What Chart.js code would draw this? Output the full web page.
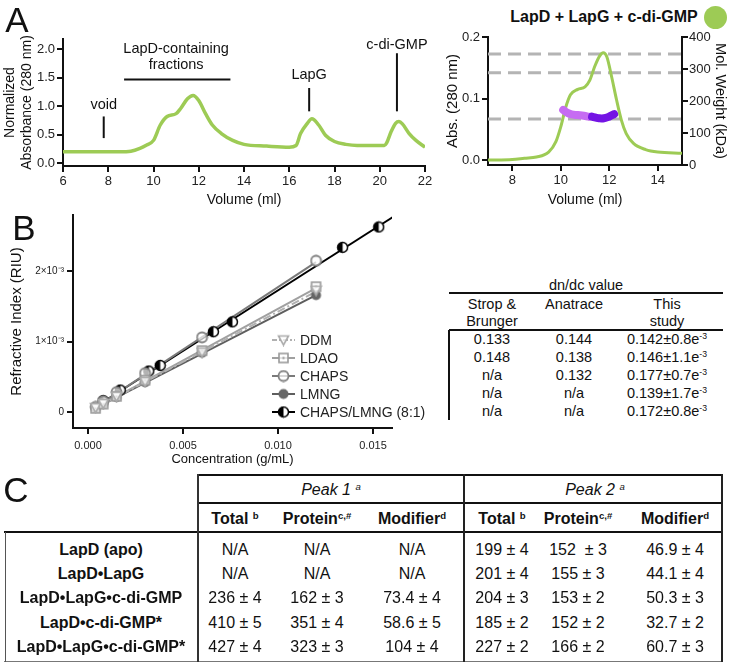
<!DOCTYPE html>
<html><head><meta charset="utf-8">
<script src="https://cdn.jsdelivr.net/npm/chart.js@4/dist/chart.umd.min.js"></script>
<style>
body{margin:0;width:732px;height:671px;position:relative;background:#fff;font-family:"Liberation Sans",Arial,Helvetica,sans-serif;color:#111;overflow:hidden}
canvas{position:absolute}
.t{position:absolute;white-space:pre;transform:translate(-50%,-50%);line-height:1}
.ln{position:absolute;background:#111}
sup{font-size:60%;vertical-align:0;position:relative;top:-0.55em}
</style></head><body>
<canvas id="cA1" width="440" height="185" style="left:0;top:25px"></canvas>
<canvas id="cA2" width="292" height="185" style="left:440px;top:25px"></canvas>
<canvas id="cB" width="445" height="265" style="left:0;top:205px"></canvas>
<script>
// ---------------- DATA ----------------
// Panel A (left): SEC trace
const volA = [6,7,8,8.5,9,9.4,9.7,10,10.3,10.6,11.0,11.2,11.5,11.75,12.0,12.3,12.6,13.0,13.5,14,15,16,16.3,16.5,16.8,17.0,17.3,17.6,18,18.5,19,20.2,20.3,20.5,20.7,20.85,21.0,21.3,21.6,22];
const absA = [0.20,0.20,0.20,0.20,0.21,0.26,0.32,0.40,0.67,0.82,0.87,0.96,1.13,1.19,1.10,0.87,0.67,0.52,0.40,0.33,0.30,0.28,0.31,0.52,0.70,0.78,0.67,0.49,0.38,0.33,0.31,0.31,0.35,0.55,0.70,0.73,0.69,0.52,0.40,0.28];
const xTicksA = [6,8,10,12,14,16,18,20,22];
const yTicksA = [0,0.5,1.0,1.5,2.0];
// Panel A (right): SEC-MALS trace
const volR = [7,8,8.5,9.0,9.5,9.8,10.0,10.2,10.4,10.7,11.0,11.2,11.4,11.6,11.75,11.9,12.1,12.3,12.5,12.7,13.0,13.5,14,15];
const absR = [0.0,0.001,0.003,0.005,0.013,0.030,0.054,0.085,0.106,0.115,0.119,0.130,0.152,0.169,0.1745,0.168,0.135,0.098,0.065,0.043,0.027,0.017,0.013,0.011];
const mwRefLines = [347,288,144];
const peak1Vol = [10.1,10.3,10.45,10.7,10.95,11.15];
const peak1MW = [172,162,158,156,154,151];
const peak2Vol = [11.29,11.45,11.57,11.78,11.99,12.2];
const peak2MW = [151,148,146,146,151,159];
const xTicksR = [8,10,12,14];
const yTicksR = [0,0.1,0.2];
const y2TicksR = [0,100,200,300,400];
// Panel B: refractive index vs concentration
const ddmConc = [0.0004,0.0008,0.0015,0.003,0.006,0.012];
const ddmRI = [0.06e-3,0.12e-3,0.22e-3,0.43e-3,0.85e-3,1.73e-3];
const ldaoConc = [0.0004,0.0008,0.0015,0.003,0.006,0.012];
const ldaoRI = [0.05e-3,0.11e-3,0.22e-3,0.45e-3,0.87e-3,1.78e-3];
const chapsConc = [0.0004,0.0008,0.0015,0.003,0.006,0.012];
const chapsRI = [0.07e-3,0.15e-3,0.28e-3,0.55e-3,1.06e-3,2.15e-3];
const lmngConc = [0.0004,0.0008,0.0015,0.003,0.006,0.012];
const lmngRI = [0.06e-3,0.11e-3,0.21e-3,0.42e-3,0.84e-3,1.66e-3];
const mixConc = [0.0008,0.0017,0.0032,0.0038,0.0066,0.0076,0.0134,0.0153];
const mixRI = [0.16e-3,0.31e-3,0.58e-3,0.66e-3,1.14e-3,1.28e-3,2.34e-3,2.63e-3];
// fitted lines, endpoints
const ddmFitC = [0.0003,0.012], ddmFitRI = [0.04e-3,1.71e-3];
const ldaoFitC = [0.0003,0.012], ldaoFitRI = [0.04e-3,1.76e-3];
const chapsFitC = [0.0003,0.012], chapsFitRI = [0.05e-3,2.13e-3];
const lmngFitC = [0.0003,0.012], lmngFitRI = [0.04e-3,1.66e-3];
const mixFitC = [0.0005,0.0161], mixFitRI = [0.09e-3,2.78e-3];
const detergents = ['DDM','LDAO','CHAPS','LMNG','CHAPS/LMNG (8:1)'];
const xTicksB = [0,0.005,0.010,0.015];
const yTicksB = [0,1e-3,2e-3];
// dn/dc table
const dndcStrop = ['0.133','0.148','n/a','n/a','n/a'];
const dndcAnatrace = ['0.144','0.138','0.132','n/a','n/a'];
const dndcThis = ['0.142','0.146','0.177','0.139','0.172'];
const dndcThisErr = ['0.8','1.1','0.7','1.7','0.8'];
// Panel C table
const rowLabels = ['LapD (apo)','LapD•LapG','LapD•LapG•c-di-GMP','LapD•c-di-GMP*','LapD•LapG•c-di-GMP*'];
const p1Total = ['N/A','N/A','236 ± 4','410 ± 5','427 ± 4'];
const p1Protein = ['N/A','N/A','162 ± 3','351 ± 4','323 ± 3'];
const p1Modifier = ['N/A','N/A','73.4 ± 4','58.6 ± 5','104 ± 4'];
const p2Total = ['199 ± 4','201 ± 4','204 ± 3','185 ± 2','227 ± 2'];
const p2Protein = ['152  ± 3','155 ± 3','153 ± 2','152 ± 2','166 ± 2'];
const p2Modifier = ['46.9 ± 4','44.1 ± 4','50.3 ± 3','32.7 ± 2','60.7 ± 3'];

// ---------------- STYLE ----------------
const FONT = '"Liberation Sans", Arial, Helvetica, sans-serif';
Chart.defaults.font.family = FONT;
Chart.defaults.color = '#111';
const GREEN = '#9dcb55';
const INK = '#111';

const pts = (xs, ys) => xs.map((x,i)=>({x, y: ys[i]}));
const fixTicks = vals => s => { s.ticks = vals.map(v=>({value:v})); };

function axis(extra){
  return Object.assign({
    type:'linear',
    grid:{display:true, drawOnChartArea:false, drawTicks:true, tickLength:6, color:INK, lineWidth:2},
    border:{display:true, color:INK, width:2},
    ticks:{color:'#222', font:{size:13}, padding:2, maxRotation:0, autoSkip:false},
  }, extra);
}

// HTML text helper
function txt(html, x, y, css){
  const d = document.createElement('div');
  d.className='t'; d.innerHTML = html;
  d.style.left = x+'px'; d.style.top = y+'px';
  if (css) d.style.cssText += css;
  document.body.appendChild(d); return d;
}
function hline(x1,x2,y,w,col){const d=document.createElement('div');d.className='ln';d.style.cssText+=`left:${x1}px;top:${y-w/2}px;width:${x2-x1}px;height:${w}px;background:${col||INK}`;document.body.appendChild(d);}
function vline(x,y1,y2,w,col){const d=document.createElement('div');d.className='ln';d.style.cssText+=`left:${x-w/2}px;top:${y1}px;width:${w}px;height:${y2-y1}px;background:${col||INK}`;document.body.appendChild(d);}

// ---------------- PANEL A (left) ----------------
const annoA = {
  texts:[{t:'void',x:7.8,y:1.02},{t:'LapD-containing',x:11.0,y:2.0},{t:'fractions',x:11.0,y:1.72},{t:'LapG',x:16.88,y:1.54},{t:'c-di-GMP',x:20.76,y:2.07}],
  lines:[[7.8,0.44,7.8,0.82],[8.7,1.47,13.4,1.47],[16.88,0.91,16.88,1.32],[20.76,0.91,20.76,1.93]]
};
const annoPlugin = {
  id:'anno',
  afterDatasetsDraw(chart){
    const {ctx, scales:{x,y}} = chart;
    ctx.save();
    ctx.strokeStyle = INK; ctx.lineWidth = 2;
    annoA.lines.forEach(([a,b,c,d])=>{ctx.beginPath();ctx.moveTo(x.getPixelForValue(a),y.getPixelForValue(b));ctx.lineTo(x.getPixelForValue(c),y.getPixelForValue(d));ctx.stroke();});
    ctx.fillStyle = INK; ctx.font = '14.5px '+FONT; ctx.textAlign='center'; ctx.textBaseline='middle';
    annoA.texts.forEach(o=>ctx.fillText(o.t, x.getPixelForValue(o.x), y.getPixelForValue(o.y)));
    ctx.restore();
  }
};
new Chart(document.getElementById('cA1'), {
  type:'line',
  data:{datasets:[{data:pts(volA,absA), borderColor:GREEN, borderWidth:3.5, pointRadius:0, cubicInterpolationMode:'monotone'}]},
  options:{responsive:false, animation:false, events:[],
    plugins:{legend:{display:false}, tooltip:{enabled:false}},
    layout:{padding:{top:14,right:15,left:0,bottom:0}},
    scales:{
      x: axis({min:6,max:22, afterBuildTicks:fixTicks(xTicksA), afterFit:s=>{s.height=44},
         title:{display:true,text:'Volume (ml)',font:{size:14},color:INK,padding:{top:0,bottom:1}}}),
      y: axis({min:-0.05,max:2.18, afterBuildTicks:fixTicks(yTicksA), afterFit:s=>{s.width=63},
         ticks:{color:'#222',font:{size:13},padding:2,callback:v=>v.toFixed(1)},
         title:{display:true,text:['Normalized','Absorbance (280 nm)'],font:{size:14,lineHeight:1.25},color:INK,padding:{top:1,bottom:0}}})
    }},
  plugins:[annoPlugin]
});

// ---------------- PANEL A (right) ----------------
const dsR = [];
mwRefLines.forEach(v=>dsR.push({data:[{x:7,y:v},{x:15,y:v}], yAxisID:'y2', borderColor:'#b4b4b4', borderWidth:3, borderDash:[13,7], pointRadius:0, order:3}));
dsR.push({data:pts(volR,absR), yAxisID:'y', borderColor:GREEN, borderWidth:3, pointRadius:0, cubicInterpolationMode:'monotone', order:2});
dsR.push({data:pts(peak1Vol,peak1MW), yAxisID:'y2', borderColor:'#c66cf2', borderWidth:8, borderCapStyle:'round', borderJoinStyle:'round', pointRadius:0, tension:0.4, order:1});
dsR.push({data:pts(peak2Vol,peak2MW), yAxisID:'y2', borderColor:'#7414e4', borderWidth:8, borderCapStyle:'round', borderJoinStyle:'round', pointRadius:0, tension:0.4, order:0});
new Chart(document.getElementById('cA2'), {
  type:'line',
  data:{datasets:dsR},
  options:{responsive:false, animation:false, events:[],
    plugins:{legend:{display:false}, tooltip:{enabled:false}},
    layout:{padding:{top:12,right:0,left:0,bottom:0}},
    scales:{
      x: axis({min:7,max:15, afterBuildTicks:fixTicks(xTicksR), afterFit:s=>{s.height=45},
         title:{display:true,text:'Volume (ml)',font:{size:14},color:INK,padding:{top:0,bottom:1}}}),
      y: axis({position:'left', min:-0.008,max:0.2, afterBuildTicks:fixTicks(yTicksR), afterFit:s=>{s.width=48},
         ticks:{color:'#222',font:{size:13},padding:2,callback:v=>v.toFixed(1)},
         title:{display:true,text:'Abs. (280 nm)',font:{size:15},color:INK,padding:{top:4,bottom:0}}}),
      y2: axis({position:'right', min:0,max:400, afterBuildTicks:fixTicks(y2TicksR), afterFit:s=>{s.width=50},
         ticks:{color:'#222',font:{size:13},padding:1},
         title:{display:true,text:'Mol. Weight (kDa)',font:{size:14.5},color:INK,padding:{top:3,bottom:0}}})
    }}
});

// ---------------- PANEL B ----------------
function mk(draw){const c=document.createElement('canvas');c.width=c.height=13;const g=c.getContext('2d');draw(g);return c;}
const ptDDM = mk(g=>{g.strokeStyle='#aaaaaa';g.lineWidth=1.6;g.fillStyle='rgba(255,255,255,0.7)';g.beginPath();g.moveTo(1.5,2.5);g.lineTo(11.5,2.5);g.lineTo(6.5,11.5);g.closePath();g.fill();g.stroke();});
const ptLDAO = mk(g=>{g.strokeStyle='#999999';g.lineWidth=1.6;g.fillStyle='rgba(255,255,255,0.7)';g.fillRect(2,2,9,9);g.strokeRect(2,2,9,9);g.fillStyle='#999';g.fillRect(5.5,5.5,2,2);});
const ptCHAPS = mk(g=>{g.strokeStyle='#808080';g.lineWidth=1.8;g.fillStyle='rgba(255,255,255,0.7)';g.beginPath();g.arc(6.5,6.5,5,0,Math.PI*2);g.fill();g.stroke();});
const ptLMNG = mk(g=>{g.fillStyle='#666666';g.beginPath();g.arc(6.5,6.5,5,0,Math.PI*2);g.fill();});
const ptMIX = mk(g=>{g.fillStyle='#fff';g.beginPath();g.arc(6.5,6.5,5,0,Math.PI*2);g.fill();g.fillStyle='#000';g.beginPath();g.arc(6.5,6.5,5,Math.PI/2,Math.PI*1.5);g.closePath();g.fill();g.strokeStyle='#000';g.lineWidth=1.5;g.beginPath();g.arc(6.5,6.5,5,0,Math.PI*2);g.stroke();});

const series = [
  {name:detergents[0], c:ddmConc, v:ddmRI, fc:ddmFitC, fv:ddmFitRI, col:'#b0b0b0', dash:[8,3,2,3], pt:ptDDM},
  {name:detergents[1], c:ldaoConc, v:ldaoRI, fc:ldaoFitC, fv:ldaoFitRI, col:'#a0a0a0', dash:[], pt:ptLDAO},
  {name:detergents[2], c:chapsConc, v:chapsRI, fc:chapsFitC, fv:chapsFitRI, col:'#7a7a7a', dash:[], pt:ptCHAPS},
  {name:detergents[3], c:lmngConc, v:lmngRI, fc:lmngFitC, fv:lmngFitRI, col:'#5e5e5e', dash:[], pt:ptLMNG},
  {name:detergents[4], c:mixConc, v:mixRI, fc:mixFitC, fv:mixFitRI, col:'#000000', dash:[], pt:ptMIX},
];
const dsB = [];
series.forEach((s,i)=>{
  dsB.push({data:pts(s.fc,s.fv), showLine:true, borderColor:s.col, borderWidth:2, borderDash:s.dash, pointRadius:0, order:10+i});
  dsB.push({data:pts(s.c,s.v), showLine:false, pointStyle:s.pt, pointRadius:6, order:i});
});
const legendB = {
  id:'legB',
  afterDraw(chart){
    const ctx = chart.ctx; ctx.save();
    series.forEach((s,i)=>{
      const y = 135 + i*18;
      ctx.strokeStyle = s.col; ctx.lineWidth = 2; ctx.setLineDash(s.dash.length?[5,2,2,2]:[]);
      ctx.beginPath(); ctx.moveTo(272,y); ctx.lineTo(295,y); ctx.stroke();
      ctx.setLineDash([]);
      ctx.drawImage(s.pt, 283.5-6.5, y-6.5);
      ctx.fillStyle = '#222'; ctx.font = '14px '+FONT; ctx.textAlign='left'; ctx.textBaseline='middle';
      ctx.fillText(s.name, 300, y+1);
    });
    ctx.restore();
  }
};
new Chart(document.getElementById('cB'), {
  type:'scatter',
  data:{datasets:dsB},
  options:{responsive:false, animation:false, events:[],
    plugins:{legend:{display:false}, tooltip:{enabled:false}},
    layout:{padding:{top:10,right:53,left:0,bottom:0}},
    scales:{
      x: axis({min:-0.00079,max:0.016, afterBuildTicks:fixTicks(xTicksB), afterFit:s=>{s.height=42},
         ticks:{color:'#222',font:{size:11},padding:5,maxRotation:0,callback:v=>v.toFixed(3)},
         title:{display:true,text:'Concentration (g/mL)',font:{size:13},color:INK,padding:{top:0,bottom:3}}}),
      y: axis({min:-0.00023,max:0.0028, afterBuildTicks:fixTicks(yTicksB), afterFit:s=>{s.width=73},
         ticks:{color:'#222',font:{size:10},padding:3,callback:v=>v===0?'0':Math.round(v*1000)+'×10⁻³'},
         title:{display:true,text:'Refractive Index (RIU)',font:{size:15},color:INK,padding:{top:8,bottom:0}}})
    }},
  plugins:[legendB]
});

// ---------------- HTML TEXT: labels, titles, tables ----------------
txt('A', 17, 19, 'font-size:35px;');
txt('B', 24, 227, 'font-size:35px;');
txt('C', 16, 489, 'font-size:35px;');
txt('<b>LapD + LapG + c-di-GMP</b>', 604, 17, 'font-size:16px;');
(()=>{const d=document.createElement('div');d.style.cssText=`position:absolute;left:${715-11.5}px;top:${17-11.5}px;width:23px;height:23px;border-radius:50%;background:${GREEN}`;document.body.appendChild(d);})();

// dn/dc table
const dCols = [492,574,667];
const DF = 'font-size:14.5px;';
txt('dn/dc value', 586, 285, DF);
hline(449,723,293,2);
txt('Strop &amp;', dCols[0], 304, DF);
txt('Brunger', dCols[0], 321, DF);
txt('Anatrace', dCols[1], 304, DF);
txt('This', dCols[2], 304, DF);
txt('study', dCols[2], 321, DF);
hline(449,723,330,2);
vline(449,330,420,2);
for (let i=0;i<5;i++){
  const y = 339 + i*18;
  txt(dndcStrop[i], dCols[0], y, DF);
  txt(dndcAnatrace[i], dCols[1], y, DF);
  txt(dndcThis[i]+'±'+dndcThisErr[i]+'e<sup>-3</sup>', dCols[2], y, DF);
}

// Panel C table
const cCols = [235,317,412,502,578,675];
hline(197,723,475,2);
hline(197,723,503,2);
hline(4,723,532,2);
hline(4,723,661,1,'#777');
vline(198,474,662,2,'#333');
vline(464,474,662,2,'#222');
vline(722,474,662,2,'#222');
vline(5,532,662,1,'#555');
txt('<i>Peak 1 <sup>a</sup></i>', 331, 490, 'font-size:16px;');
txt('<i>Peak 2 <sup>a</sup></i>', 595, 490, 'font-size:16px;');
const hdr = ['Total <sup>b</sup>','Protein<sup>c,#</sup>','Modifier<sup>d</sup>'];
[0,1,2].forEach(j=>{ txt('<b>'+hdr[j]+'</b>', cCols[j], 519, 'font-size:16px;'); txt('<b>'+hdr[j]+'</b>', cCols[j+3], 519, 'font-size:16px;'); });
const cData = [p1Total,p1Protein,p1Modifier,p2Total,p2Protein,p2Modifier];
rowLabels.forEach((lab,i)=>{
  const y = 550 + i*24.2;
  txt('<b>'+lab+'</b>', 101, y, 'font-size:16px;');
  cData.forEach((col,j)=>txt(col[i], cCols[j], y, 'font-size:16px;'));
});
</script>
</body></html>
